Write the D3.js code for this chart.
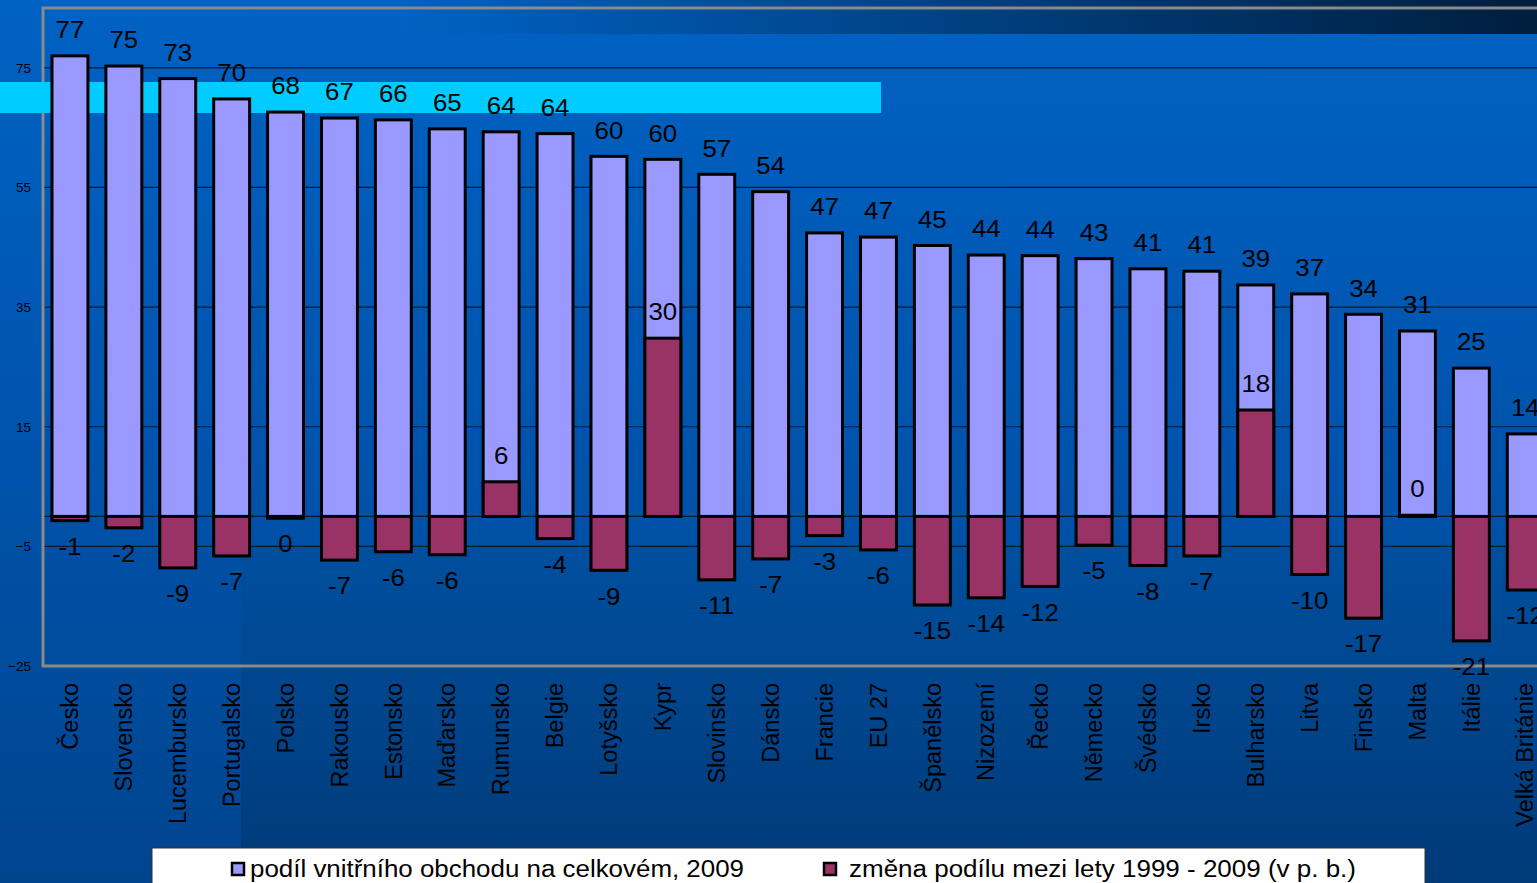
<!DOCTYPE html>
<html>
<head>
<meta charset="utf-8">
<script src="https://cdn.jsdelivr.net/npm/d3@7"></script>
<style>
  html, body { margin: 0; padding: 0; overflow: hidden; background: #0058b0; }
  svg { display: block; font-family: "Liberation Sans", Arial, sans-serif; }
</style>
</head>
<body>
<svg id="chart"></svg>
<script>
// categories (countries) in display order
let countries = ["Česko", "Slovensko", "Lucembursko", "Portugalsko", "Polsko", "Rakousko",
  "Estonsko", "Maďarsko", "Rumunsko", "Belgie", "Lotyšsko", "Kypr", "Slovinsko", "Dánsko",
  "Francie", "EU 27", "Španělsko", "Nizozemí", "Řecko", "Německo", "Švédsko", "Irsko",
  "Bulharsko", "Litva", "Finsko", "Malta", "Itálie", "Velká Británie"];

// podíl vnitřního obchodu na celkovém, 2009 (%)
let share2009 = [77, 75.3, 73.2, 69.8, 67.6, 66.6, 66.3, 64.8, 64.3, 64, 60.2, 59.7, 57.2, 54.3,
  47.4, 46.7, 45.3, 43.7, 43.6, 43.1, 41.4, 41, 38.7, 37.2, 33.8, 31, 24.8, 13.8];

// změna podílu mezi lety 1999 - 2009 (p. b.)
let change = [-0.7, -1.9, -8.6, -6.6, -0.3, -7.3, -5.9, -6.4, 5.8, -3.7, -9, 29.8, -10.6, -7.1,
  -3.2, -5.6, -14.8, -13.6, -11.7, -4.8, -8.2, -6.6, 17.8, -9.7, -17, 0.2, -20.8, -12.3];

let yTicks = [75, 55, 35, 15, -5, -25];

let seriesNames = ["podíl vnitřního obchodu na celkovém, 2009",
  "změna podílu mezi lety 1999 - 2009 (v p. b.)"];

let width = 1537;
let height = 883;
let plotLeft = 43;
let plotTop = 8;
let plotBottom = 666;

let colorShare = "#9999ff";
let colorChange = "#993366";

let svg = d3.select("#chart").attr("width", width).attr("height", height);

// background
let defs = svg.append("defs");
let bgGrad = defs.append("linearGradient").attr("id", "bg").attr("x1", 0).attr("y1", 0).attr("x2", 0).attr("y2", 1);
bgGrad.append("stop").attr("offset", "0%").attr("stop-color", "#0062c4");
bgGrad.append("stop").attr("offset", "55%").attr("stop-color", "#0052aa");
bgGrad.append("stop").attr("offset", "100%").attr("stop-color", "#00448e");
let darkGrad = defs.append("linearGradient").attr("id", "dark").attr("x1", 0).attr("y1", 0).attr("x2", 0).attr("y2", 1);
darkGrad.append("stop").attr("offset", "0%").attr("stop-color", "#004f9f");
darkGrad.append("stop").attr("offset", "100%").attr("stop-color", "#003a78");
let topGrad = defs.append("linearGradient").attr("id", "topband").attr("x1", 0).attr("y1", 0).attr("x2", 1).attr("y2", 0);
topGrad.append("stop").attr("offset", "0%").attr("stop-color", "#0062c4");
topGrad.append("stop").attr("offset", "100%").attr("stop-color", "#001e3e");

svg.append("rect").attr("width", width).attr("height", height).attr("fill", "url(#bg)");
svg.append("rect").attr("x", 241).attr("y", 545).attr("width", width - 241).attr("height", height - 545)
  .attr("fill", "url(#dark)");
svg.append("rect").attr("x", 400).attr("y", 0).attr("width", width - 400).attr("height", 34)
  .attr("fill", "url(#topband)");

// scales
let xScale = d3.scaleBand()
  .domain(countries)
  .range([plotLeft, plotLeft + 53.9 * countries.length])
  .paddingInner(1 / 3)
  .paddingOuter(1 / 6);

let yScale = d3.scaleLinear()
  .domain([-25, 85])
  .range([plotBottom, plotTop]);

// gridlines
svg.append("g")
  .selectAll("line")
  .data(yTicks.filter(d => d !== -25).concat([0]))
  .enter()
  .append("line")
  .attr("x1", plotLeft)
  .attr("x2", width)
  .attr("y1", d => yScale(d))
  .attr("y2", d => yScale(d))
  .attr("stroke", "#001a33")
  .attr("stroke-width", 1.2);

// plot border
svg.append("path")
  .attr("d", `M${width},${plotTop}H${plotLeft}V${plotBottom}H${width}`)
  .attr("fill", "none")
  .attr("stroke", "#8a8a8a")
  .attr("stroke-width", 3);

// highlight band
svg.append("rect").attr("x", 0).attr("y", 82).attr("width", 881).attr("height", 31).attr("fill", "#00ccff");

// y axis labels
let yAxis = d3.axisLeft(yScale).tickValues(yTicks).tickSize(0).tickPadding(0);
let yG = svg.append("g").attr("transform", "translate(31,0)").call(yAxis);
yG.select(".domain").remove();
yG.selectAll("text").attr("font-size", 13.5).attr("fill", "#000").attr("font-family", "Liberation Sans, Arial, sans-serif");

// bars: share
svg.append("g")
  .selectAll("rect")
  .data(share2009)
  .enter()
  .append("rect")
  .attr("x", (d, i) => xScale(countries[i]))
  .attr("width", xScale.bandwidth())
  .attr("y", d => yScale(Math.max(0, d)))
  .attr("height", d => Math.abs(yScale(d) - yScale(0)))
  .attr("fill", colorShare)
  .attr("stroke", "#000")
  .attr("stroke-width", 3);

// bars: change
svg.append("g")
  .selectAll("rect")
  .data(change)
  .enter()
  .append("rect")
  .attr("x", (d, i) => xScale(countries[i]))
  .attr("width", xScale.bandwidth())
  .attr("y", d => yScale(Math.max(0, d)))
  .attr("height", d => Math.abs(yScale(d) - yScale(0)))
  .attr("fill", colorChange)
  .attr("stroke", "#000")
  .attr("stroke-width", 3);

// value labels (slightly wide, like the original)
let labelOffset = 26;
let addLabels = (values) => {
  svg.append("g")
    .selectAll("text")
    .data(values)
    .enter()
    .append("text")
    .attr("transform", (d, i) => {
      let x = xScale(countries[i]) + xScale.bandwidth() / 2;
      let y = d >= 0 ? yScale(d) - labelOffset : yScale(d) + labelOffset;
      return "translate(" + x + "," + y + ") scale(1.1,1)";
    })
    .attr("dy", "0.35em")
    .attr("text-anchor", "middle")
    .attr("font-size", 23.5)
    .attr("fill", "#000")
    .text(d => String(Math.round(d)));
};
addLabels(share2009);
addLabels(change);

// category labels
let xAxis = d3.axisBottom(xScale).tickSize(0).tickPadding(0);
let xG = svg.append("g").attr("transform", "translate(0,683)").call(xAxis);
xG.select(".domain").remove();
xG.selectAll("text")
  .attr("font-size", 23.5)
  .attr("fill", "#000")
  .attr("font-family", "Liberation Sans, Arial, sans-serif")
  .attr("transform", "rotate(-90)")
  .attr("text-anchor", "end")
  .attr("x", 0)
  .attr("y", 0)
  .attr("dy", "0.35em");

// legend
let legend = svg.append("g");
legend.append("rect")
  .attr("x", 152).attr("y", 848).attr("width", 1273).attr("height", 45)
  .attr("fill", "#fff").attr("stroke", "#333").attr("stroke-width", 1);
let legendItems = [
  { name: seriesNames[0], color: colorShare, x: 231, tx: 250, len: 494 },
  { name: seriesNames[1], color: colorChange, x: 823, tx: 849, len: 507 }
];
legendItems.forEach(item => {
  legend.append("rect")
    .attr("x", item.x + 1).attr("y", 863).attr("width", 12).attr("height", 12)
    .attr("fill", item.color).attr("stroke", "#000").attr("stroke-width", 2.5);
  legend.append("text")
    .attr("x", item.tx).attr("y", 877)
    .attr("font-size", 23.5)
    .attr("fill", "#000")
    .attr("textLength", item.len)
    .attr("lengthAdjust", "spacingAndGlyphs")
    .text(item.name);
});
</script>
</body>
</html>
